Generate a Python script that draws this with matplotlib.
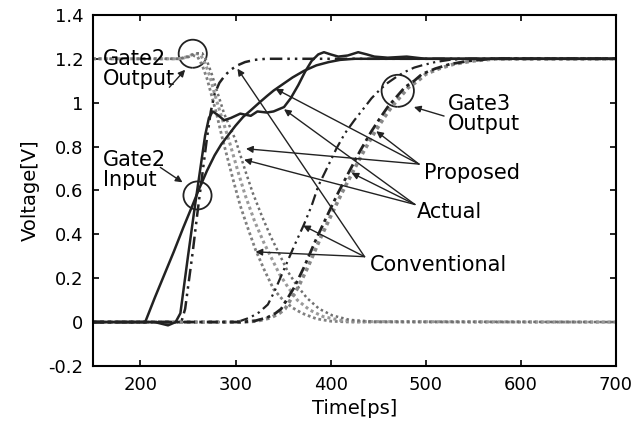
import matplotlib
matplotlib.use("Agg")
import matplotlib.pyplot as plt
from matplotlib.patches import Arc

# Gate2 input waveforms
in_prop_t = [150, 205, 215, 225, 235, 245, 255, 262, 270, 278, 285, 292, 300, 308, 316, 325,
             333, 340, 350, 360, 372, 385, 398, 410, 425, 440, 460, 700]
in_prop_v = [0, 0, 0.11, 0.215, 0.32, 0.43, 0.535, 0.61, 0.69, 0.76, 0.81, 0.85, 0.895, 0.935,
             0.965, 1.0, 1.03, 1.055, 1.085, 1.115, 1.145, 1.17, 1.185, 1.195, 1.2, 1.2, 1.2, 1.2]

in_act_t = [150, 215, 229, 237, 242, 250, 257, 263, 268, 272, 276, 281, 288, 295, 305, 316, 323,
            333, 340, 351, 358, 366, 373, 380, 387, 393, 400, 408, 418, 429, 438, 446, 460, 480,
            500, 700]
in_act_v = [0, 0, -0.015, 0, 0.04, 0.30, 0.52, 0.70, 0.85, 0.93, 0.96, 0.945, 0.92, 0.93, 0.95,
            0.94, 0.96, 0.955, 0.96, 0.98, 1.02, 1.08, 1.14, 1.19, 1.22, 1.23, 1.22, 1.21, 1.215,
            1.23, 1.22, 1.21, 1.205, 1.21, 1.2, 1.2]

in_conv_t = [150, 243, 247, 251, 255, 260, 265, 270, 274, 278, 283, 289, 295, 302, 310, 320,
             332, 345, 700]
in_conv_v = [0, 0, 0.06, 0.19, 0.32, 0.5, 0.67, 0.84, 0.96, 1.04, 1.09, 1.125, 1.15, 1.17,
             1.185, 1.195, 1.2, 1.2, 1.2]

# Gate2 output waveforms (falling)
g2_conv_t = [150, 240, 248, 255, 260, 265, 270, 275, 280, 286, 292, 298, 305, 312, 321, 330,
             340, 350, 360, 370, 385, 400, 420, 700]
g2_conv_v = [1.2, 1.2, 1.205, 1.215, 1.21, 1.17, 1.11, 1.03, 0.95, 0.84, 0.74, 0.64, 0.53, 0.44,
             0.33, 0.24, 0.15, 0.10, 0.065, 0.04, 0.015, 0.004, 0, 0]

g2_act_t = [150, 240, 250, 257, 263, 268, 273, 278, 285, 293, 303, 310, 320, 330, 338, 346, 355,
            365, 378, 392, 410, 430, 700]
g2_act_v = [1.2, 1.2, 1.21, 1.225, 1.22, 1.18, 1.12, 1.04, 0.94, 0.83, 0.68, 0.58, 0.46, 0.36,
            0.29, 0.22, 0.16, 0.10, 0.055, 0.025, 0.008, 0.002, 0]

g2_prop_t = [150, 240, 250, 258, 265, 270, 275, 280, 288, 300, 311, 318, 328, 337, 346, 355, 364,
             375, 388, 402, 420, 445, 700]
g2_prop_v = [1.2, 1.2, 1.21, 1.225, 1.225, 1.19, 1.13, 1.06, 0.95, 0.83, 0.68, 0.59, 0.48, 0.39,
             0.31, 0.23, 0.17, 0.11, 0.06, 0.03, 0.01, 0.002, 0]

# Gate3 output waveforms (rising)
g3_conv_t = [150, 295, 305, 315, 325, 334, 341, 348, 355, 362, 372, 380, 387, 396, 406, 415, 425,
             435, 443, 452, 460, 470, 478, 488, 496, 510, 525, 545, 700]
g3_conv_v = [0, 0, 0.005, 0.02, 0.045, 0.08, 0.14, 0.21, 0.28, 0.35, 0.445, 0.53, 0.62, 0.70,
             0.79, 0.86, 0.92, 0.975, 1.02, 1.06, 1.09, 1.12, 1.14, 1.16, 1.17, 1.185, 1.195, 1.2, 1.2]

g3_prop_t = [150, 305, 320, 333, 342, 348, 355, 362, 372, 385, 398, 408, 420, 431, 443, 452, 460,
             470, 478, 488, 496, 510, 525, 545, 570, 600, 700]
g3_prop_v = [0, 0, 0.005, 0.02, 0.04, 0.06, 0.11, 0.16, 0.25, 0.38, 0.50, 0.59, 0.69, 0.78, 0.87,
             0.93, 0.98, 1.03, 1.07, 1.10, 1.13, 1.155, 1.175, 1.19, 1.2, 1.2, 1.2]

g3_act_t = [150, 308, 323, 337, 346, 352, 359, 366, 376, 389, 402, 412, 424, 435, 447, 456, 464,
            474, 482, 492, 500, 514, 529, 549, 574, 604, 700]
g3_act_v = [0, 0, 0.005, 0.02, 0.04, 0.06, 0.11, 0.16, 0.25, 0.38, 0.50, 0.59, 0.69, 0.78, 0.87,
            0.93, 0.98, 1.03, 1.07, 1.10, 1.13, 1.155, 1.175, 1.19, 1.2, 1.2, 1.2]

xticks = [200, 300, 400, 500, 600, 700]
yticks = [-0.2, 0, 0.2, 0.4, 0.6, 0.8, 1, 1.2, 1.4]
ytick_labels = ["-0.2", "0", "0.2", "0.4", "0.6", "0.8", "1", "1.2", "1.4"]

fig = plt.figure(figsize=(6.32, 4.26), dpi=100)
ax = fig.add_axes([0.147, 0.141, 0.8275, 0.824])

# falling gate2 outputs (dotted grey)
ax.plot(g2_conv_t, g2_conv_v, color="#808080", lw=2.0, ls=(0, (1, 1)))
ax.plot(g2_act_t, g2_act_v, color="#9a9a9a", lw=2.2, ls=(0, (1, 1)))
ax.plot(g2_prop_t, g2_prop_v, color="#707070", lw=1.8, ls=(0, (1, 1.2)))

# rising gate3 outputs
ax.plot(g3_conv_t, g3_conv_v, color="#222222", lw=1.6, ls=(0, (5, 2, 1, 2, 1, 2)))
ax.plot(g3_act_t, g3_act_v, color="#888888", lw=2.6, ls=(0, (1, 1)))
ax.plot(g3_prop_t, g3_prop_v, color="#222222", lw=2.0, ls=(0, (4, 1.5, 1.2, 1.5)))

# gate2 inputs
ax.plot(in_conv_t, in_conv_v, color="#222222", lw=1.8, ls=(0, (5, 2, 1, 2, 1, 2)))
ax.plot(in_prop_t, in_prop_v, color="#222222", lw=1.8)
ax.plot(in_act_t, in_act_v, color="#222222", lw=1.8)

# circles
ax.add_patch(Arc((255, 1.223), 2 * 14.8, 2 * 0.064, theta1=-20, theta2=250, color="#222222", lw=1.3))
ax.add_patch(Arc((260, 0.577), 2 * 14.8, 2 * 0.064, theta1=290, theta2=200, color="#222222", lw=1.3))
ax.add_patch(Arc((470.6, 1.054), 2 * 17, 2 * 0.073, theta1=-60, theta2=200, color="#222222", lw=1.3))

arrow = dict(arrowstyle="-|>", color="#222222", lw=1.0, mutation_scale=10, shrinkA=0, shrinkB=0)
fs = 15

ax.text(161, 1.155, "Gate2\nOutput", fontsize=fs, va="center", ha="left", linespacing=1.0)
ax.annotate("", xy=(247, 1.15), xytext=(230.4, 1.07), arrowprops=arrow)

ax.text(161, 0.695, "Gate2\nInput", fontsize=fs, va="center", ha="left", linespacing=1.0)
ax.annotate("", xy=(244.2, 0.637), xytext=(220.9, 0.705), arrowprops=arrow)

ax.text(523, 0.95, "Gate3\nOutput", fontsize=fs, va="center", ha="left", linespacing=1.0)
ax.annotate("", xy=(487.6, 0.98), xytext=(519.3, 0.939), arrowprops=arrow)

ax.text(498, 0.68, "Proposed", fontsize=fs, va="center", ha="left")
for hx, hy in [(342, 1.063), (311, 0.79), (448, 0.87)]:
    ax.annotate("", xy=(hx, hy), xytext=(492.9, 0.72), arrowprops=arrow)

ax.text(491, 0.50, "Actual", fontsize=fs, va="center", ha="left")
for hx, hy in [(351, 0.97), (309, 0.74), (422, 0.68)]:
    ax.annotate("", xy=(hx, hy), xytext=(488.6, 0.536), arrowprops=arrow)

ax.text(441, 0.262, "Conventional", fontsize=fs, va="center", ha="left")
for hx, hy in [(302, 1.155), (321, 0.32), (371, 0.44)]:
    ax.annotate("", xy=(hx, hy), xytext=(435.7, 0.298), arrowprops=arrow)

ax.set_xlim(150, 700)
ax.set_ylim(-0.2, 1.4)
ax.set_xticks(xticks)
ax.set_yticks(yticks)
ax.set_yticklabels(ytick_labels)
ax.tick_params(direction="in", top=True, right=True, length=4, width=1.2, labelsize=13, pad=7)
for s in ax.spines.values():
    s.set_linewidth(1.5)
ax.set_xlabel("Time[ps]", fontsize=14, labelpad=4)
ax.set_ylabel("Voltage[V]", fontsize=14, labelpad=6)

fig.savefig("out.png", dpi=100)
